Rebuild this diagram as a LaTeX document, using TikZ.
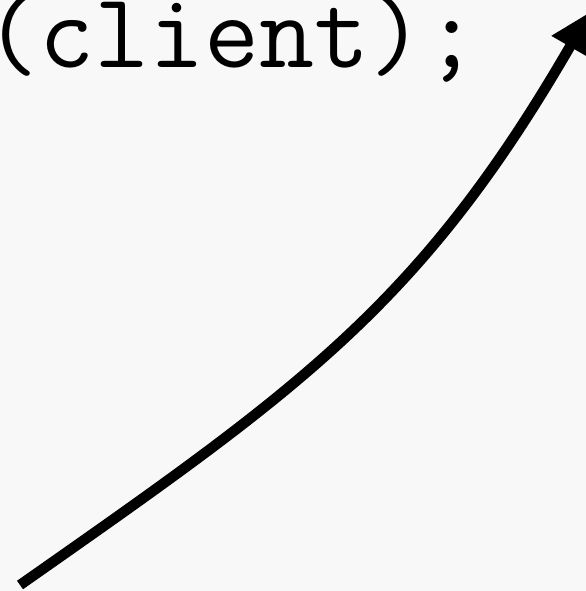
\documentclass[tikz,border=0pt]{standalone}
\usetikzlibrary{arrows.meta}
\definecolor{pagebg}{HTML}{F8F8F8}
\definecolor{inkstr}{HTML}{000000}
\tikzset{
  codetext/.style={anchor=base west, inner sep=0pt, text=inkstr,
                   font=\ttfamily\fontsize{152pt}{160pt}\selectfont},
  callflow/.style={-{Triangle[length=20mm, width=20mm]}, draw=inkstr,
                   line width=5.2mm, line cap=butt},
}
\begin{document}
\begin{tikzpicture}[x=0.5mm, y=-0.5mm]
    \useasboundingbox (0,0) rectangle (586,591);
    \fill[pagebg] (0,0) rectangle (586,591);
    \clip (0,0) rectangle (586,591);
    \node[codetext] (code) at (-16,67) {(client);};
    \coordinate (src) at (20,585);
    \coordinate (dst) at (590,12);
    \draw[callflow] (src) .. controls (298,390) and (420,306) .. (dst);
  \end{tikzpicture}
\end{document}
